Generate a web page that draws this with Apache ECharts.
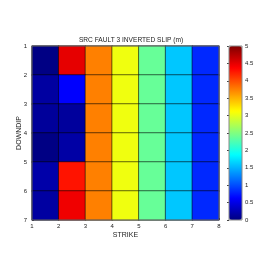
<!DOCTYPE html>
<html>
<head>
<meta charset="utf-8">
<script src="https://cdn.jsdelivr.net/npm/echarts@6/dist/echarts.min.js"></script>
<style>html,body{margin:0;padding:0;background:#fff;}#c{width:274px;height:274px;}</style>
</head>
<body>
<div id="c"></div>
<script>
// Cell indices along strike (columns) and downdip (rows)
var strikeCells = ['1', '2', '3', '4', '5', '6', '7'];
var downdipCells = ['1', '2', '3', '4', '5', '6'];
// Slip (m) per downdip row, left to right along strike
var slipRow1 = [0.02, 4.50, 3.75, 3.05, 2.38, 1.60, 0.82];
var slipRow2 = [0.16, 0.62, 3.75, 3.05, 2.38, 1.60, 0.82];
var slipRow3 = [0.13, 0.14, 3.75, 3.05, 2.38, 1.60, 0.82];
var slipRow4 = [0.02, 0.18, 3.75, 3.05, 2.38, 1.60, 0.82];
var slipRow5 = [0.20, 4.28, 3.75, 3.05, 2.38, 1.60, 0.82];
var slipRow6 = [0.16, 4.45, 3.75, 3.05, 2.38, 1.60, 0.82];
var slipRows = [slipRow1, slipRow2, slipRow3, slipRow4, slipRow5, slipRow6];
// Tick labels
var strikeTicks = [1, 8];
var downdipTicks = [1, 7];
var colorbarRange = [0, 5];

var jet = ['#000080', '#0000FF', '#0080FF', '#00FFFF', '#80FF80', '#FFFF00', '#FF8000', '#FF0000', '#800000'];

var data = [];
slipRows.forEach(function (row, r) {
  row.forEach(function (v, c) { data.push([c, r, v]); });
});

var font = 'Liberation Sans';
var chart = echarts.init(document.getElementById('c'), null, {renderer: 'canvas'});
chart.setOption({
  animation: false,
  backgroundColor: '#fff',
  title: {
    text: 'SRC FAULT 3 INVERTED SLIP (m)',
    left: 126, top: 32, textAlign: 'center',
    textStyle: {fontSize: 6.6, fontWeight: 'normal', color: '#222', fontFamily: font}
  },
  grid: [
    {left: 32, top: 46, width: 187, height: 174, show: true, borderColor: '#666', borderWidth: 1, backgroundColor: 'transparent', z: 10},
    {left: 229, top: 46, width: 13, height: 174, show: true, borderColor: '#888', borderWidth: 1, backgroundColor: 'transparent', z: 10}
  ],
  xAxis: [
    {type: 'category', data: strikeCells, gridIndex: 0, show: false},
    {type: 'value', gridIndex: 0, min: strikeTicks[0], max: strikeTicks[1], interval: 1, position: 'bottom',
     name: 'STRIKE', nameLocation: 'middle', nameGap: 12, nameMoveOverlap: false,
     nameTextStyle: {fontSize: 7, color: '#222', fontFamily: font},
     axisLine: {show: false}, splitLine: {show: false},
     axisTick: {inside: true, length: 2, lineStyle: {color: '#444'}},
     axisLabel: {fontSize: 6, color: '#222', margin: 3, fontFamily: font}},
    {type: 'value', gridIndex: 1, min: 0, max: 1, show: false}
  ],
  yAxis: [
    {type: 'category', data: downdipCells, gridIndex: 0, inverse: true, show: false},
    {type: 'value', gridIndex: 0, min: downdipTicks[0], max: downdipTicks[1], interval: 1, inverse: true, position: 'left',
     name: 'DOWNDIP', nameLocation: 'middle', nameGap: 9, nameRotate: 90, nameMoveOverlap: false,
     nameTextStyle: {fontSize: 7, color: '#222', fontFamily: font},
     axisLine: {show: false}, splitLine: {show: false},
     axisTick: {inside: true, length: 2, lineStyle: {color: '#444'}},
     axisLabel: {fontSize: 6, color: '#222', margin: 5, fontFamily: font}},
    {type: 'value', gridIndex: 1, min: colorbarRange[0], max: colorbarRange[1], interval: 0.5, position: 'right',
     axisLine: {show: false}, splitLine: {show: false},
     axisTick: {inside: true, length: 2, lineStyle: {color: '#444'}},
     axisLabel: {fontSize: 6, color: '#222', margin: 3, fontFamily: font}}
  ],
  visualMap: {
    type: 'continuous', min: colorbarRange[0], max: colorbarRange[1],
    seriesIndex: 0, calculable: false, realtime: false,
    orient: 'vertical', left: 229, top: 46, itemWidth: 13, itemHeight: 174,
    padding: 0, text: ['', ''], showLabel: false, hoverLink: false,
    inRange: {color: jet}
  },
  series: [{
    type: 'heatmap', xAxisIndex: 0, yAxisIndex: 0, data: data,
    itemStyle: {borderColor: 'rgba(0,0,0,0.55)', borderWidth: 1},
    emphasis: {disabled: true}
  }]
});
</script>
</body>
</html>
